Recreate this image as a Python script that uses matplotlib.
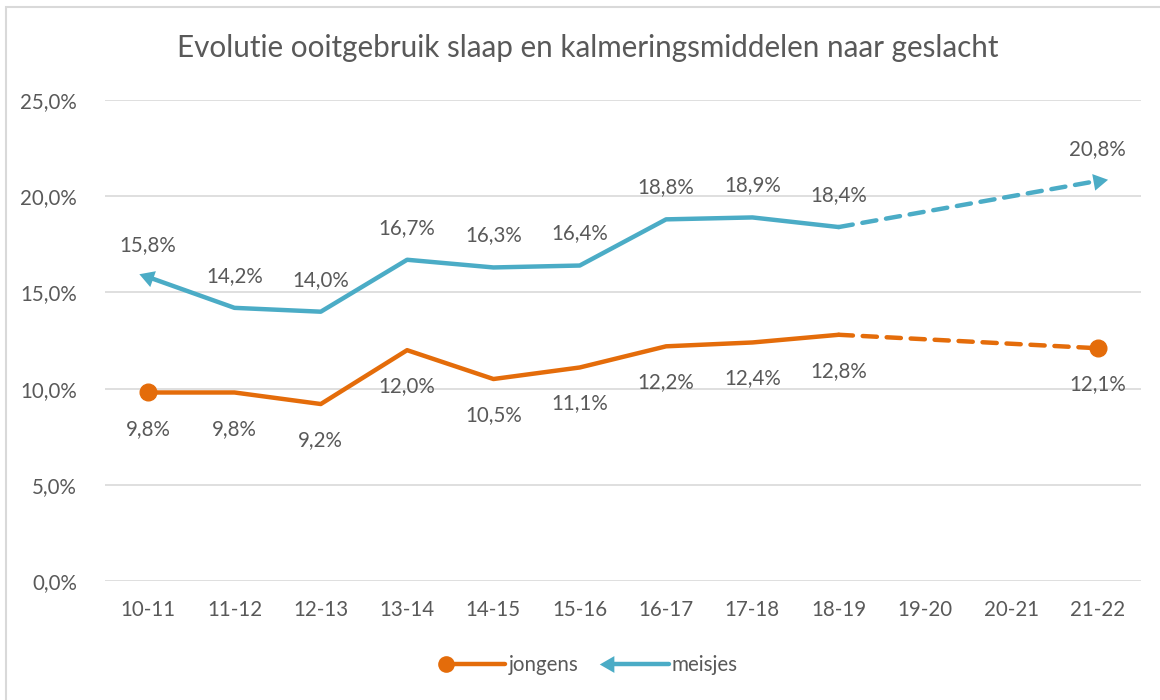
import numpy as np
import matplotlib
matplotlib.use("Agg")
import matplotlib.pyplot as plt
from matplotlib.lines import Line2D
from matplotlib.legend_handler import HandlerBase
from matplotlib.patches import Rectangle

categories = ["10-11", "11-12", "12-13", "13-14", "14-15", "15-16", "16-17",
              "17-18", "18-19", "19-20", "20-21", "21-22"]
jongens = [9.8, 9.8, 9.2, 12.0, 10.5, 11.1, 12.2, 12.4, 12.8, None, None, 12.1]
meisjes = [15.8, 14.2, 14.0, 16.7, 16.3, 16.4, 18.8, 18.9, 18.4, None, None, 20.8]
yticks = [0, 5, 10, 15, 20, 25]
title = "Evolutie ooitgebruik slaap en kalmeringsmiddelen naar geslacht"

ORANGE = "#E46C0A"
BLUE = "#4BACC6"
TXT = "#595959"
GRID = "#D9D9D9"
FS = 14.8

plt.rcParams['font.family'] = ['Lato', 'DejaVu Sans']

fig = plt.figure(figsize=(11.6, 7.0), dpi=100)
ax = fig.add_axes([0.0905, 0.17, 0.893, 0.687])
ax.set_xlim(-0.5, len(categories) - 0.5)
ax.set_ylim(0, 25)

for y in yticks:
    ax.axhline(y, color=GRID, lw=1.2, zorder=0)
for s in ax.spines.values():
    s.set_visible(False)
ax.set_yticks(yticks)
ax.set_yticklabels([f"{v:.1f}%".replace(".", ",") for v in yticks], color=TXT, fontsize=FS)
ax.set_xticks(range(len(categories)))
ax.set_xticklabels(categories, color=TXT, fontsize=FS)
ax.tick_params(length=0, pad=14)
ax.tick_params(axis='y', pad=20)

fig.canvas.draw()


def draw_series(vals, color):
    idx = [i for i, v in enumerate(vals) if v is not None]
    solid = [i for i in idx if i <= 8]
    ax.plot(solid, [vals[i] for i in solid], color=color, lw=3.2,
            solid_capstyle='round', solid_joinstyle='round', zorder=3)
    last_solid = solid[-1]
    last = idx[-1]
    ax.plot([last_solid, last], [vals[last_solid], vals[last]], color=color, lw=3.2,
            dashes=(3.2, 2.2), dash_capstyle='round', zorder=3)
    return idx


def arrowhead(x0, y0, x1, y1, color):
    p0 = ax.transData.transform((x0, y0))
    p1 = ax.transData.transform((x1, y1))
    ang = np.degrees(np.arctan2(p1[1] - p0[1], p1[0] - p0[0]))
    ax.plot([x1], [y1], marker=(3, 0, ang - 90), markersize=14, color=color,
            markeredgewidth=0, zorder=4)


idx_j = draw_series(jongens, ORANGE)
ax.plot([idx_j[0], idx_j[-1]], [jongens[idx_j[0]], jongens[idx_j[-1]]], 'o',
        color=ORANGE, markersize=12, zorder=4)

idx_m = draw_series(meisjes, BLUE)
arrowhead(idx_m[1], meisjes[idx_m[1]], idx_m[0], meisjes[idx_m[0]], BLUE)
arrowhead(idx_m[-2], meisjes[idx_m[-2]], idx_m[-1], meisjes[idx_m[-1]], BLUE)

for i in idx_j:
    ax.annotate(f"{jongens[i]:.1f}%".replace(".", ","), (i, jongens[i]),
                xytext=(0, -26), textcoords='offset points', ha='center', va='center',
                color=TXT, fontsize=FS)
for i in idx_m:
    ax.annotate(f"{meisjes[i]:.1f}%".replace(".", ","), (i, meisjes[i]),
                xytext=(0, 23), textcoords='offset points', ha='center', va='center',
                color=TXT, fontsize=FS)

fig.text(0.507, 0.931, title, ha='center', va='center', fontsize=21.3, color=TXT)


class HandlerLeftMarker(HandlerBase):
    def create_artists(self, legend, orig_handle, xdescent, ydescent, width, height,
                       fontsize, trans):
        yc = height / 2 - ydescent
        line = Line2D([-xdescent, width - xdescent], [yc, yc], color=orig_handle.get_color(),
                      lw=3.2, solid_capstyle='round', transform=trans)
        m = orig_handle.get_marker()
        ms = orig_handle.get_markersize()
        mk = Line2D([-xdescent], [yc], marker=m, markersize=ms, color=orig_handle.get_color(),
                    markeredgewidth=0, linestyle='none', transform=trans)
        return [line, mk]


h1 = Line2D([], [], color=ORANGE, marker='o', markersize=12)
h2 = Line2D([], [], color=BLUE, marker=(3, 0, 90), markersize=14)
fig.legend([h1, h2], ["jongens", "meisjes"], loc='center', bbox_to_anchor=(0.51, 0.05),
           ncol=2, frameon=False, fontsize=FS, labelcolor=TXT, handlelength=2.9,
           handletextpad=0.15, columnspacing=1.5, handler_map={Line2D: HandlerLeftMarker()})

fig.patches.append(Rectangle((6 / 1160, -0.1), 1.2, 1 - 7 / 700 + 0.1, transform=fig.transFigure,
                             fill=False, edgecolor="#D9D9D9", lw=1.5))

fig.savefig("out.png", dpi=100)
